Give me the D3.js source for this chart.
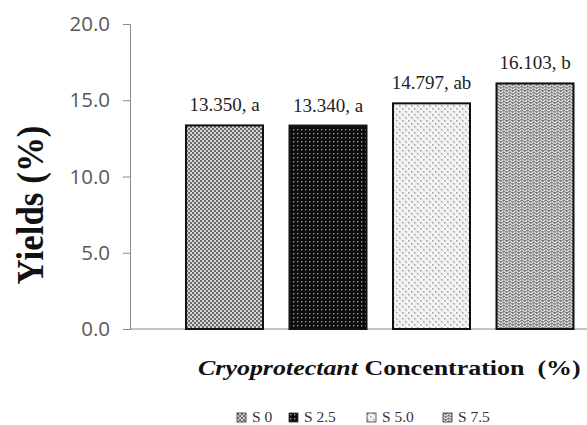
<!DOCTYPE html>
<html>
<head>
<meta charset="utf-8">
<script src="https://cdn.jsdelivr.net/npm/d3@7"></script>
<style>
  body { margin: 0; background: #fff; }
  svg { display: block; }
</style>
</head>
<body>
<script>
// values
const categories = ["S 0", "S 2.5", "S 5.0", "S 7.5"];
const yields = [13.350, 13.340, 14.797, 16.103];
const groups = ["a", "a", "ab", "b"];
const yTicks = [0, 5, 10, 15, 20];

const W = 587, H = 425;

const svg = d3.select("body")
  .append("svg")
  .attr("width", W)
  .attr("height", H);

const defs = svg.append("defs");

// S0 : grey checker
const p0 = defs.append("pattern").attr("id", "pat0")
  .attr("patternUnits", "userSpaceOnUse").attr("width", 4).attr("height", 4);
p0.append("rect").attr("width", 4).attr("height", 4).attr("fill", "#d6d6d6");
p0.append("rect").attr("width", 2).attr("height", 2).attr("fill", "#6a6a6a");
p0.append("rect").attr("x", 2).attr("y", 2).attr("width", 2).attr("height", 2).attr("fill", "#6a6a6a");

// S2.5 : black with small light dots
const p1 = defs.append("pattern").attr("id", "pat1")
  .attr("patternUnits", "userSpaceOnUse").attr("width", 4).attr("height", 4);
p1.append("rect").attr("width", 4).attr("height", 4).attr("fill", "#0d0d0d");
p1.append("rect").attr("x", 1).attr("y", 1).attr("width", 1.4).attr("height", 1.4).attr("fill", "#9a9a9a");

// S5.0 : light dotted lattice
const p2 = defs.append("pattern").attr("id", "pat2")
  .attr("patternUnits", "userSpaceOnUse").attr("width", 6).attr("height", 6);
p2.append("rect").attr("width", 6).attr("height", 6).attr("fill", "#f4f4f4");
p2.append("rect").attr("x", 0).attr("y", 0).attr("width", 1.5).attr("height", 1.5).attr("fill", "#a0a0a0");
p2.append("rect").attr("x", 3).attr("y", 3).attr("width", 1.5).attr("height", 1.5).attr("fill", "#a0a0a0");
p2.append("rect").attr("x", 1.5).attr("y", 1.5).attr("width", 1).attr("height", 1).attr("fill", "#c4c4c4");
p2.append("rect").attr("x", 4.5).attr("y", 4.5).attr("width", 1).attr("height", 1).attr("fill", "#c4c4c4");

// S7.5 : grey with white herringbone weave
const p3 = defs.append("pattern").attr("id", "pat3")
  .attr("patternUnits", "userSpaceOnUse").attr("width", 6).attr("height", 6);
p3.append("rect").attr("width", 6).attr("height", 6).attr("fill", "#787878");
p3.append("path").attr("d", "M0,0.5 L2.5,3 M3,3 L5.5,0.5 M0,3.5 L2.5,6 M3,6 L5.5,3.5")
  .attr("fill", "none").attr("stroke", "#ececec").attr("stroke-width", 1.1);

const patterns = ["url(#pat0)", "url(#pat1)", "url(#pat2)", "url(#pat3)"];

// scales
const y = d3.scaleLinear().domain([0, 20]).range([329, 24]);
const x = d3.scaleBand().domain(categories).range([172.75, 586.75])
  .paddingInner(0.256).paddingOuter(0.128);

// axes
const yAxis = svg.append("g")
  .attr("transform", "translate(130,0)")
  .call(d3.axisLeft(y).tickValues(yTicks).tickFormat(d3.format(".1f")).tickSize(7).tickPadding(13));
yAxis.select(".domain").attr("stroke", "#8a8a8a");
yAxis.selectAll(".tick line").attr("stroke", "#8a8a8a");
yAxis.selectAll(".tick text")
  .attr("font-family", "'Open Sans', sans-serif")
  .attr("font-size", 20.5)
  .attr("fill", "#595959");

svg.append("line")
  .attr("x1", 130).attr("x2", W)
  .attr("y1", y(0)).attr("y2", y(0))
  .attr("stroke", "#8a8a8a");

// bars
svg.selectAll("rect.bar")
  .data(categories)
  .enter()
  .append("rect")
  .attr("class", "bar")
  .attr("x", d => x(d))
  .attr("y", (d, i) => y(yields[i]))
  .attr("width", x.bandwidth())
  .attr("height", (d, i) => y(0) - y(yields[i]))
  .attr("fill", (d, i) => patterns[i])
  .attr("stroke", "#111")
  .attr("stroke-width", 2);

// value labels
svg.selectAll("text.val")
  .data(categories)
  .enter()
  .append("text")
  .attr("class", "val")
  .attr("x", d => x(d) + x.bandwidth() / 2)
  .attr("y", (d, i) => y(yields[i]) - 14)
  .attr("text-anchor", "middle")
  .attr("font-family", "'Liberation Serif', serif")
  .attr("font-size", 19)
  .attr("fill", "#222")
  .text((d, i) => d3.format(".3f")(yields[i]) + ", " + groups[i]);

// y title
svg.append("text")
  .attr("transform", "translate(43,205) rotate(-90) scale(1,1.1)")
  .attr("text-anchor", "middle")
  .attr("font-family", "'Liberation Serif', serif")
  .attr("font-weight", "bold")
  .attr("font-size", 35)
  .attr("fill", "#111")
  .text("Yields (%)");

// x title
const xt = svg.append("text")
  .attr("font-family", "'Liberation Serif', serif")
  .attr("font-weight", "bold")
  .attr("font-size", 20)
  .attr("fill", "#111");
xt.append("tspan").attr("font-style", "italic").text("Cryoprotectant");
xt.append("tspan").text(" Concentration\u00a0\u00a0(%)");
const xw = xt.node().getComputedTextLength();
const xs = 383 / xw;
xt.attr("transform", `translate(198,375) scale(${xs},1)`);

// legend
const legendX = [237, 289, 367, 443];
const leg = svg.selectAll("g.leg")
  .data(categories)
  .enter()
  .append("g")
  .attr("class", "leg")
  .attr("transform", (d, i) => `translate(${legendX[i]},413)`);
leg.append("rect")
  .attr("width", 9).attr("height", 9)
  .attr("fill", (d, i) => patterns[i])
  .attr("stroke", "#333").attr("stroke-width", 0.8);
leg.append("text")
  .attr("x", 15)
  .attr("y", 9)
  .attr("font-family", "'Liberation Serif', serif")
  .attr("font-size", 15.5)
  .attr("fill", "#333")
  .text(d => d);
</script>
</body>
</html>
